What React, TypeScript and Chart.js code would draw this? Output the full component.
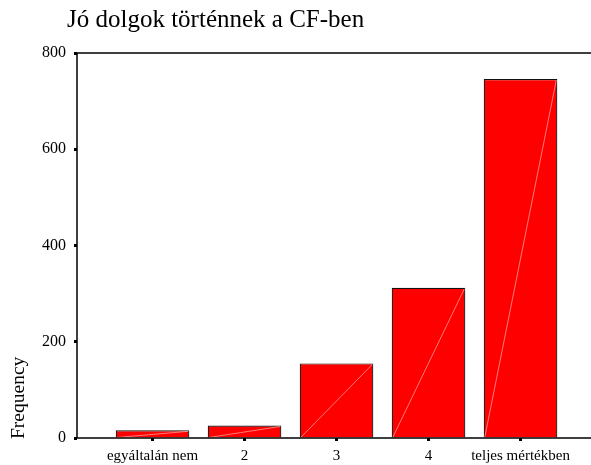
import React, { useEffect, useRef } from "react";
import { Chart, registerables } from "chart.js";

Chart.register(...registerables);

const TITLE = "Jó dolgok történnek a CF-ben";
const Y_TITLE = "Frequency";
const categories = ["egyáltalán nem", "2", "3", "4", "teljes mértékben"];
const frequencies = [16, 26, 155, 312, 746];
const yTicks = [0, 200, 400, 600, 800];

const FONT = "'Liberation Serif', 'Times New Roman', serif";

export default function App() {
  const ref = useRef<HTMLCanvasElement>(null);

  useEffect(() => {
    const canvas = ref.current!;
    const decor = {
      id: "decor",
      afterDatasetsDraw(chart: any) {
        const { ctx, chartArea: a } = chart;
        ctx.save();
        const meta = chart.getDatasetMeta(0);
        ctx.strokeStyle = "rgba(255,170,170,0.9)";
        ctx.lineWidth = 0.8;
        meta.data.forEach((bar: any) => {
          const p = bar.getProps(["x", "y", "base", "width"], true);
          const l = p.x - p.width / 2;
          const r = p.x + p.width / 2;
          ctx.beginPath();
          ctx.moveTo(l + 1, p.base);
          ctx.lineTo(r - 1, p.y + 1);
          ctx.stroke();
        });
        ctx.strokeStyle = "#000";
        ctx.lineWidth = 1.5;
        ctx.beginPath();
        ctx.moveTo(a.right, a.top);
        ctx.lineTo(a.left, a.top);
        ctx.lineTo(a.left, a.bottom);
        ctx.lineTo(a.right, a.bottom);
        ctx.stroke();
        ctx.restore();
      },
      afterDraw(chart: any) {
        const { ctx } = chart;
        ctx.save();
        ctx.fillStyle = "#000";
        ctx.textBaseline = "alphabetic";
        ctx.textAlign = "left";
        ctx.font = `25px ${FONT}`;
        ctx.fillText(TITLE, 67, 27);
        ctx.translate(24, 439);
        ctx.rotate(-Math.PI / 2);
        ctx.font = `19.5px ${FONT}`;
        ctx.fillText(Y_TITLE, 0, 0);
        ctx.restore();
      },
    };

    const chart = new Chart(canvas, {
      type: "bar",
      data: {
        datasets: [
          {
            data: frequencies.map((v, i) => ({ x: i + 1, y: v })),
            backgroundColor: "#ff0000",
            borderColor: "#111111",
            borderWidth: 1.2,
            borderSkipped: "bottom",
            categoryPercentage: 1,
            barPercentage: 0.8,
          },
        ],
      },
      options: {
        animation: false,
        responsive: false,
        layout: { padding: { top: 53, left: 0, right: 0, bottom: 0 } },
        plugins: { legend: { display: false }, tooltip: { enabled: false } },
        scales: {
          x: {
            type: "linear",
            offset: false,
            min: 0.179,
            max: 5.766,
            afterBuildTicks: (s: any) => {
              s.ticks = categories.map((_, i) => ({ value: i + 1 }));
            },
            afterFit: (s: any) => {
              s.height = 27;
            },
            ticks: {
              autoSkip: false,
              maxRotation: 0,
              color: "#000",
              padding: 6,
              font: { family: FONT, size: 15 },
              callback: (v: any) => categories[Number(v) - 1] ?? "",
            },
            grid: {
              offset: false,
              drawOnChartArea: false,
              drawTicks: true,
              tickLength: 3,
              tickWidth: 3,
              color: "#000",
            },
            border: { display: false },
          },
          y: {
            type: "linear",
            min: 0,
            max: 800,
            afterBuildTicks: (s: any) => {
              s.ticks = yTicks.map((v) => ({ value: v }));
            },
            afterFit: (s: any) => {
              s.width = 77;
            },
            ticks: {
              color: "#000",
              padding: 8,
              font: { family: FONT, size: 16 },
            },
            grid: {
              drawOnChartArea: false,
              drawTicks: true,
              tickLength: 3,
              tickWidth: 3,
              color: "#000",
            },
            border: { display: false },
          },
        },
      },
      plugins: [decor],
    });
    return () => chart.destroy();
  }, []);

  return (
    <div style={{ position: "fixed", left: 0, top: 0, width: 591, height: 465, background: "#fff" }}>
      <canvas ref={ref} width={591} height={465} />
    </div>
  );
}
